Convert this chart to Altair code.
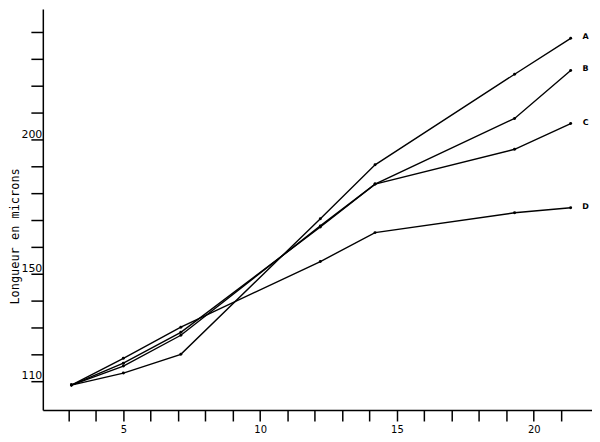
import altair as alt
import pandas as pd

# Values
days = [3.1, 5.0, 7.1, 12.2, 14.2, 19.3, 21.35]
series_names = ["A", "B", "C", "D"]
A = [108.4, 112.9, 119.9, 170.5, 190.6, 224.4, 237.8]
B = [108.4, 115.5, 127.0, 167.8, 183.4, 207.9, 225.8]
C = [108.4, 116.6, 128.1, 167.4, 183.4, 196.4, 206.0]
D = [108.4, 118.4, 130.0, 154.5, 165.3, 172.7, 174.6]

x_ticks = list(range(3, 22))
x_labelled = [5, 10, 15, 20]
y_ticks = list(range(110, 250, 10))
y_labelled = [110, 150, 200]
y_title = "Longueur en microns"

rows = []
for name, vals in zip(series_names, [A, B, C, D]):
    for d, v in zip(days, vals):
        rows.append({"serie": name, "jour": d, "longueur": v})
df = pd.DataFrame(rows)
last = df.groupby("serie").tail(1)

x_scale = alt.Scale(domain=[2.055, 22.13], nice=False, zero=False)
y_scale = alt.Scale(domain=[99.1, 248.7], nice=False, zero=False)

xlab = " || ".join(f"datum.value == {v}" for v in x_labelled)
ylab = " || ".join(f"datum.value == {v}" for v in y_labelled)

x_enc = alt.X(
    "jour:Q", scale=x_scale,
    axis=alt.Axis(values=x_ticks, tickCount=100, format="d",
                  labelExpr=f"({xlab}) ? datum.label : ''",
                  title=None, grid=False, tickSize=11, tickWidth=1.5,
                  domainWidth=1.5, labelFontSize=10, labelPadding=4,
                  labelOverlap=False, labelBound=False, labelFlush=False,
                  labelFont="DejaVu Sans", tickColor="black",
                  domainColor="black", labelColor="black"),
)
y_enc = alt.Y(
    "longueur:Q", scale=y_scale,
    axis=alt.Axis(values=y_ticks, tickCount=100, format="d",
                  labelExpr=f"({ylab}) ? datum.label : ''",
                  title=y_title, grid=False, tickSize=12, tickWidth=1.5,
                  domainWidth=1.5, labelFontSize=11, labelPadding=-11,
                  labelOverlap=False, labelBound=False, labelFlush=False,
                  labelBaseline="bottom", labelAlign="right",
                  labelFont="DejaVu Sans", tickColor="black",
                  domainColor="black", labelColor="black",
                  titleFont="DejaVu Sans Mono", titleFontSize=12,
                  titleFontWeight="normal", titleColor="black",
                  titleX=-21, titleY=228),
)

lines = alt.Chart(df).mark_line(color="black", strokeWidth=1.4).encode(
    x=x_enc, y=y_enc, detail="serie:N"
)
points = alt.Chart(df).mark_circle(color="black", size=9, opacity=1).encode(
    x="jour:Q", y="longueur:Q"
)
labels = alt.Chart(last).mark_text(
    dx=15, dy=-1, fontSize=8, fontWeight="bold", font="DejaVu Sans",
    color="black"
).encode(x="jour:Q", y="longueur:Q", text="serie:N")

chart = (lines + points + labels).properties(
    width=552, height=403,
    autosize=alt.AutoSizeParams(type="none"),
    padding={"left": 35, "top": 0, "right": 0, "bottom": 27},
).configure_view(stroke=None)

chart.save("out.html", embed_options={"renderer": "svg", "actions": False})
